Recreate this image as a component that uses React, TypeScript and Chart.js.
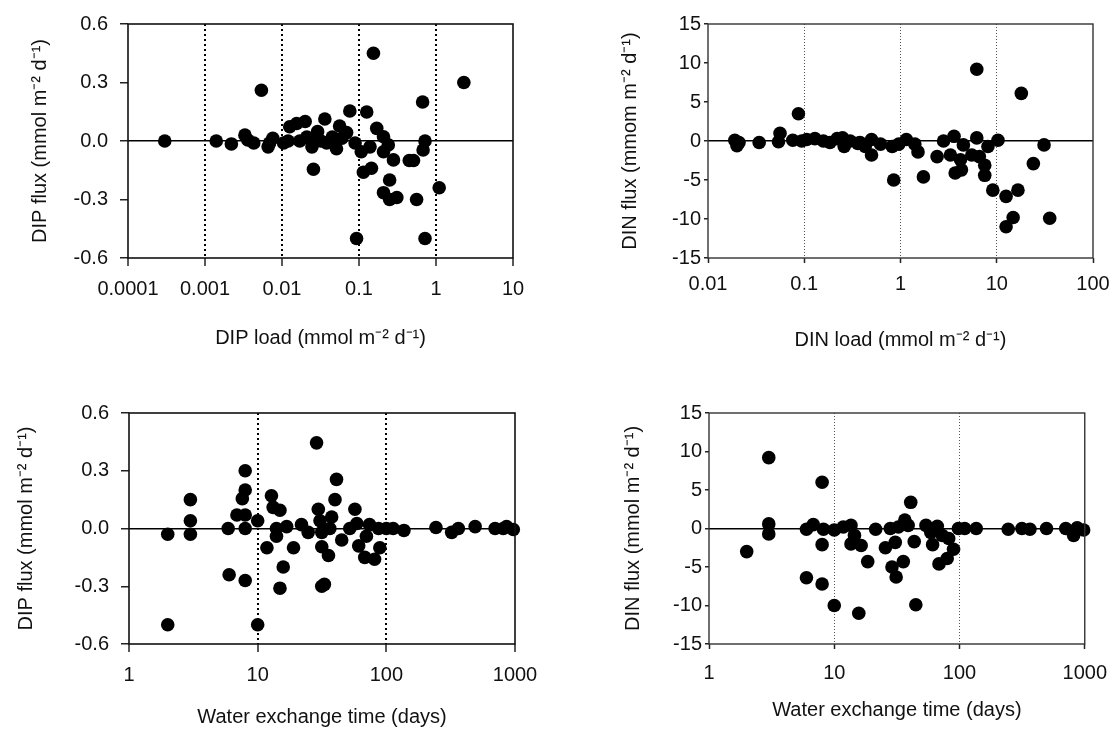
import React, { useEffect, useRef } from "react";
import { Chart, registerables } from "chart.js";

Chart.register(...registerables);

// ---------------- data ----------------
// Panel A: DIP load vs DIP flux
const dipLoad = [
  0.0003, 0.0014, 0.0022, 0.0033, 0.0036, 0.0043, 0.0054, 0.0066, 0.0076, 0.0069,
  0.0105, 0.012, 0.0126, 0.0155, 0.02, 0.017, 0.021, 0.0245, 0.0256, 0.026,
  0.029, 0.032, 0.036, 0.038, 0.045, 0.051, 0.056, 0.06, 0.069, 0.076,
  0.089, 0.093, 0.107, 0.114, 0.126, 0.139, 0.145, 0.154, 0.17, 0.208,
  0.208, 0.208, 0.24, 0.25, 0.25, 0.28, 0.31, 0.45, 0.51, 0.56,
  0.67, 0.68, 0.72, 0.72, 1.1, 2.3,
];
const dipFluxByLoad = [
  0.0, 0.0, -0.015, 0.03, 0.005, -0.01, 0.26, -0.03, 0.014, -0.01,
  -0.01, 0.0, 0.073, 0.09, 0.1, 0.0, 0.02, -0.03, -0.145, 0.01,
  0.048, 0.0, 0.113, -0.01, 0.02, -0.04, 0.077, 0.014, 0.043, 0.154,
  -0.01, -0.5, -0.055, -0.16, 0.149, -0.03, -0.14, 0.45, 0.065, 0.022,
  -0.055, -0.265, -0.02, -0.2, -0.3, -0.097, -0.29, -0.1, -0.1, -0.3,
  0.2, -0.046, 0.0, -0.5, -0.24, 0.3,
];

// Panel B: DIN load vs DIN flux
const dinLoad = [
  0.019, 0.02, 0.021, 0.034, 0.054, 0.056, 0.076, 0.087, 0.094, 0.106,
  0.129, 0.158, 0.185, 0.22, 0.25, 0.26, 0.3, 0.36, 0.38, 0.43,
  0.5, 0.5, 0.62, 0.82, 0.85, 0.96, 1.15, 1.41, 1.52, 1.73,
  2.4, 2.8, 3.3, 3.6, 3.7, 4.2, 4.3, 4.5, 5.5, 6.2,
  6.2, 6.6, 7.5, 7.5, 8.1, 9.1, 10.3, 12.5, 12.5, 14.8,
  16.6, 18.0, 24, 31, 35.5,
];
const dinFluxByLoad = [
  0.1, -0.6, -0.2, -0.2, -0.1, 1.0, 0.1, 3.5, 0.0, 0.2,
  0.3, 0.0, -0.2, 0.3, 0.4, -0.7, 0.0, -0.3, -0.2, -0.7,
  0.2, -1.8, -0.4, -0.7, -5.0, -0.4, 0.2, -0.4, -1.4, -4.6,
  -2.0, 0.0, -1.8, 0.6, -4.1, -2.4, -3.7, -0.5, -1.8, 9.2,
  0.4, -2.0, -3.1, -4.4, -0.7, -6.3, 0.1, -7.1, -11.0, -9.8,
  -6.3, 6.1, -2.9, -0.5, -9.9,
];

// Panel C: water exchange time vs DIP flux
const timeDip = [
  2.0, 2.0, 3.0, 3.0, 3.0, 5.9, 6.0, 6.9, 7.6, 8.0,
  8.0, 8.0, 8.0, 8.0, 10, 10, 11.8, 12.8, 13.2, 14.0,
  14.0, 14.9, 15.8, 14.9, 16.8, 19, 21.9, 24.7, 28.7, 29.6,
  30.5, 31.5, 31.5, 31.5, 33, 35.5, 36.4, 37.6, 39.9, 41,
  45, 52, 57, 59, 61, 68, 70, 74, 81, 87,
  89, 100, 113, 137, 243, 322, 363, 490, 700, 810,
  860, 970,
];
const dipFluxByTime = [
  -0.03, -0.5, 0.15, 0.04, -0.03, 0.0, -0.24, 0.07, 0.155, 0.3,
  0.2, 0.07, 0.0, -0.27, 0.04, -0.5, -0.1, 0.17, 0.11, 0.0,
  -0.04, 0.095, -0.2, -0.31, 0.01, -0.1, 0.02, -0.02, 0.445, 0.1,
  0.04, -0.02, -0.095, -0.3, -0.29, -0.14, 0.0, 0.06, 0.15, 0.255,
  -0.06, 0.0, 0.1, 0.026, -0.09, -0.15, -0.04, 0.02, -0.16, 0.0,
  -0.1, 0.0, 0.0, -0.01, 0.005, -0.02, 0.0, 0.01, 0.0, 0.0,
  0.01, -0.005,
];

// Panel D: water exchange time vs DIN flux
const timeDin = [
  2.0, 3.0, 3.0, 3.0, 6.0, 6.0, 6.8, 8.0, 8.0, 8.0,
  8.2, 10, 10, 11.8, 13.6, 13.6, 14.5, 16.4, 15.7, 18.5,
  21.4, 25.6, 28, 28.9, 30.7, 31.2, 32.5, 35.6, 36.6, 38.9,
  40.8, 43.5, 44.8, 54, 59, 61, 66.5, 68.6, 72.8, 79.7,
  82, 89.6, 98, 110, 136, 245, 315, 365, 495, 705,
  815, 870, 980,
];
const dinFluxByTime = [
  -3.0, 9.2, 0.6, -0.7, -0.1, -6.4, 0.5, 6.0, -2.1, -7.2,
  -0.1, -0.2, -10.0, 0.2, 0.4, -2.0, -0.9, -2.2, -11.0, -4.3,
  -0.1, -2.5, 0.0, -5.0, -1.8, -6.3, 0.2, -4.3, 1.1, 0.4,
  3.4, -1.7, -9.9, 0.4, -0.5, -2.1, 0.3, -4.6, -0.9, -3.9,
  -1.3, -2.7, 0.0, 0.0, 0.0, -0.1, 0.0, -0.1, 0.0, 0.0,
  -0.9, 0.1, -0.2,
];

// tick values / labels
const dipLoadTicks = [0.0001, 0.001, 0.01, 0.1, 1, 10];
const dipLoadTickLabels = ["0.0001", "0.001", "0.01", "0.1", "1", "10"];
const dinLoadTicks = [0.01, 0.1, 1, 10, 100];
const dinLoadTickLabels = ["0.01", "0.1", "1", "10", "100"];
const timeTicks = [1, 10, 100, 1000];
const timeTickLabels = ["1", "10", "100", "1000"];
const dipFluxTicks = [-0.6, -0.3, 0, 0.3, 0.6];
const dipFluxTickLabels = ["-0.6", "-0.3", "0.0", "0.3", "0.6"];
const dinFluxTicks = [-15, -10, -5, 0, 5, 10, 15];
const dinFluxTickLabels = ["-15", "-10", "-5", "0", "5", "10", "15"];

const xTitleDipLoad = "DIP load (mmol m\u207B\u00B2 d\u207B\u00B9)";
const xTitleDinLoad = "DIN load (mmol m\u207B\u00B2 d\u207B\u00B9)";
const xTitleTime = "Water exchange time (days)";
const yTitleDipFlux = "DIP flux (mmol m\u207B\u00B2 d\u207B\u00B9)";
const yTitleDinFluxA = "DIN flux (mmom m\u207B\u00B2 d\u207B\u00B9)";
const yTitleDinFluxB = "DIN flux (mmol m\u207B\u00B2 d\u207B\u00B9)";

// ---------------- styling ----------------
const FONT = '"Liberation Sans", Arial, Helvetica, sans-serif';

const framePlugin = {
  id: "frameBox",
  afterDatasetsDraw(chart: any, _args: any, opts: any) {
    const { ctx, chartArea } = chart;
    const { left, top, right, bottom } = chartArea;
    ctx.save();
    ctx.strokeStyle = opts.color || "#222";
    ctx.lineWidth = opts.width || 1.5;
    ctx.strokeRect(left, top, right - left, bottom - top);
    ctx.restore();
  },
};

type PanelProps = {
  left: number;
  top: number;
  width: number;
  height: number;
  yWidth: number;
  xHeight: number;
  padTop: number;
  padRight: number;
  xs: number[];
  ys: number[];
  xMin: number;
  xMax: number;
  xTicks: number[];
  xTickLabels: string[];
  yTicks: number[];
  yTickLabels: string[];
  xTitle: string;
  yTitle: string;
  xTitlePadBottom: number;
  yTitlePadTop: number;
  yTickLen: number;
  yTickPad: number;
  xTickLen: number;
  xTickPad: number;
  dotColor: string;
  dotWidth: number;
  dotDash: number[];
  frameWidth: number;
  frameColor: string;
};

function Panel(p: PanelProps) {
  const ref = useRef<HTMLCanvasElement | null>(null);
  useEffect(() => {
    if (!ref.current) return;
    const points = p.xs.map((x, i) => ({ x, y: p.ys[i] }));
    const lastX = p.xTicks.length - 1;
    const chart = new Chart(ref.current, {
      type: "scatter",
      data: {
        datasets: [
          {
            data: points,
            backgroundColor: "#000",
            borderColor: "#000",
            borderWidth: 0,
            pointRadius: 6.8,
            pointHoverRadius: 6.8,
            clip: false as any,
          },
        ],
      },
      plugins: [framePlugin],
      options: {
        responsive: false,
        animation: false,
        events: [],
        layout: { padding: { top: p.padTop, right: p.padRight, left: 0, bottom: 0 } },
        plugins: {
          legend: { display: false },
          tooltip: { enabled: false },
          frameBox: { color: p.frameColor, width: p.frameWidth },
        } as any,
        scales: {
          x: {
            type: "logarithmic",
            min: p.xMin,
            max: p.xMax,
            afterBuildTicks: (scale: any) => {
              scale.ticks = p.xTicks.map((v) => ({ value: v, major: true }));
            },
            afterFit: (scale: any) => {
              scale.height = p.xHeight;
            },
            ticks: {
              autoSkip: false,
              maxRotation: 0,
              minRotation: 0,
              padding: p.xTickPad,
              color: "#111",
              font: { family: FONT, size: 20 },
              callback: (_v: any, i: number) => p.xTickLabels[i],
            },
            grid: {
              drawTicks: true,
              tickLength: p.xTickLen,
              tickColor: "#222",
              tickWidth: 1.5,
              lineWidth: p.dotWidth,
              color: (ctx: any) =>
                ctx.index > 0 && ctx.index < lastX ? p.dotColor : "rgba(0,0,0,0)",
            },
            border: { display: false, dash: p.dotDash },
            title: {
              display: true,
              text: p.xTitle,
              color: "#111",
              font: { family: FONT, size: 20 },
              padding: { top: 0, bottom: p.xTitlePadBottom },
            },
          },
          y: {
            type: "linear",
            min: p.yTicks[0],
            max: p.yTicks[p.yTicks.length - 1],
            afterBuildTicks: (scale: any) => {
              scale.ticks = p.yTicks.map((v) => ({ value: v }));
            },
            afterFit: (scale: any) => {
              scale.width = p.yWidth;
            },
            ticks: {
              autoSkip: false,
              padding: p.yTickPad,
              color: "#111",
              font: { family: FONT, size: 20 },
              callback: (_v: any, i: number) => p.yTickLabels[i],
            },
            grid: {
              drawTicks: true,
              tickLength: p.yTickLen,
              tickColor: "#222",
              tickWidth: 1.5,
              lineWidth: 1.5,
              color: (ctx: any) =>
                ctx.tick && ctx.tick.value === 0 ? "#000" : "rgba(0,0,0,0)",
            },
            border: { display: false },
            title: {
              display: true,
              text: p.yTitle,
              color: "#111",
              font: { family: FONT, size: 20 },
              padding: { top: p.yTitlePadTop, bottom: 0 },
            },
          },
        },
      } as any,
    });
    return () => chart.destroy();
  }, []);
  return (
    <canvas
      ref={ref}
      width={p.width}
      height={p.height}
      style={{
        position: "absolute",
        left: p.left,
        top: p.top,
        width: p.width,
        height: p.height,
      }}
    />
  );
}

export default function App() {
  const bold = { dotColor: "#000", dotWidth: 2, dotDash: [2, 3], frameWidth: 1.6, frameColor: "#111" };
  const fine = { dotColor: "#555", dotWidth: 1, dotDash: [1, 2], frameWidth: 1.4, frameColor: "#333" };
  return (
    <div
      style={{
        position: "fixed",
        left: 0,
        top: 0,
        width: 1119,
        height: 729,
        overflow: "hidden",
        background: "#fff",
      }}
    >
      <Panel
        left={0} top={0} width={560} height={360}
        yWidth={128} xHeight={102} padTop={24} padRight={47}
        xs={dipLoad} ys={dipFluxByLoad}
        xMin={0.0001} xMax={10}
        xTicks={dipLoadTicks} xTickLabels={dipLoadTickLabels}
        yTicks={dipFluxTicks} yTickLabels={dipFluxTickLabels}
        xTitle={xTitleDipLoad} yTitle={yTitleDipFlux}
        xTitlePadBottom={10} yTitlePadTop={28}
        yTickLen={8} yTickPad={12} xTickLen={8} xTickPad={11}
        {...bold}
      />
      <Panel
        left={580} top={0} width={539} height={360}
        yWidth={128} xHeight={102} padTop={24} padRight={26}
        xs={dinLoad} ys={dinFluxByLoad}
        xMin={0.01} xMax={100}
        xTicks={dinLoadTicks} xTickLabels={dinLoadTickLabels}
        yTicks={dinFluxTicks} yTickLabels={dinFluxTickLabels}
        xTitle={xTitleDinLoad} yTitle={yTitleDinFluxA}
        xTitlePadBottom={8} yTitlePadTop={38}
        yTickLen={4} yTickPad={3} xTickLen={5} xTickPad={9}
        {...fine}
      />
      <Panel
        left={0} top={360} width={560} height={369}
        yWidth={129} xHeight={85} padTop={53} padRight={45}
        xs={timeDip} ys={dipFluxByTime}
        xMin={1} xMax={1000}
        xTicks={timeTicks} xTickLabels={timeTickLabels}
        yTicks={dipFluxTicks} yTickLabels={dipFluxTickLabels}
        xTitle={xTitleTime} yTitle={yTitleDipFlux}
        xTitlePadBottom={0} yTitlePadTop={14}
        yTickLen={8} yTickPad={12} xTickLen={8} xTickPad={11}
        {...bold}
      />
      <Panel
        left={580} top={360} width={539} height={369}
        yWidth={129} xHeight={85} padTop={53} padRight={25}
        xs={timeDin} ys={dinFluxByTime}
        xMin={1} xMax={1000}
        xTicks={timeTicks} xTickLabels={timeTickLabels}
        yTicks={dinFluxTicks} yTickLabels={dinFluxTickLabels}
        xTitle={xTitleTime} yTitle={yTitleDinFluxB}
        xTitlePadBottom={7} yTitlePadTop={41}
        yTickLen={4} yTickPad={3} xTickLen={5} xTickPad={12}
        {...fine}
      />
    </div>
  );
}
